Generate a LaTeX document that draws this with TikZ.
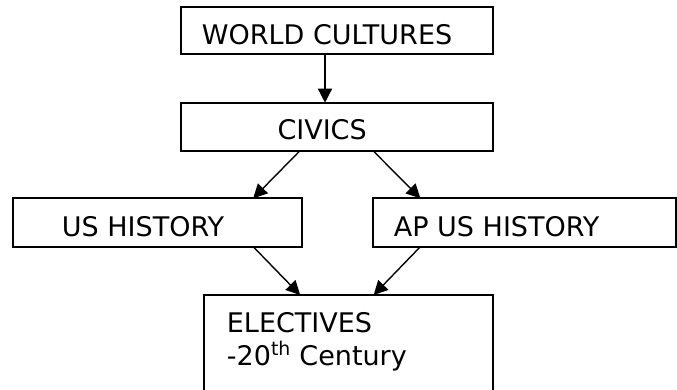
\documentclass[tikz,border=0pt]{standalone}
\usepackage{fontspec}
\setmainfont{DejaVu Sans}
\usetikzlibrary{arrows.meta,calc}
\begin{document}
\begin{tikzpicture}[x=1pt,y=-1pt,
  box/.style={draw,line width=1.9pt,inner sep=0pt,outer sep=0pt},
  lbl/.style={anchor=base west,inner sep=0pt,font=\fontsize{27}{32}\selectfont},
  arr/.style={line width=1.4pt,-{Triangle[length=14pt,width=14pt]}}]
\useasboundingbox (0,0) rectangle (677,390);
\node[box,minimum width=312pt,minimum height=47.3pt] (wc) at (337,30.35) {};
\node[box,minimum width=312pt,minimum height=48pt] (civ) at (337,126.7) {};
\node[box,minimum width=289pt,minimum height=48.4pt] (us) at (157.2,222.5) {};
\node[box,minimum width=303.3pt,minimum height=48.4pt] (ap) at (524.35,222.5) {};
\node[box,minimum width=288.7pt,minimum height=96pt] (el) at (348.65,343) {};
\node[lbl] (twc) at (201.7,45) {WORLD CULTURES};
\node[lbl] (tciv) at (277.3,140) {CIVICS};
\node[lbl] (tus) at (61.7,236.7) {US HISTORY};
\node[lbl] (tap) at (393.7,236.7) {AP US HISTORY};
\node[lbl] (tel1) at (226.7,332.7) {ELECTIVES};
\node[lbl] (tel2) at (226.7,365) {-20\textsuperscript{th} Century};
\draw[arr] ($(wc.south)+(-12,0)$) -- ($(civ.north)+(-12,0)$);
\draw[arr] ($(civ.south)+(-37,0)$) -- ($(us.north)+(96,0)$);
\draw[arr] ($(civ.south)+(36,0)$) -- ($(ap.north)+(-104,0)$);
\draw[arr] ($(us.south)+(96,0)$) -- ($(el.north)+(-48.5,0)$);
\draw[arr] ($(ap.south)+(-104,0)$) -- ($(el.north)+(25,0)$);
\end{tikzpicture}
\end{document}
